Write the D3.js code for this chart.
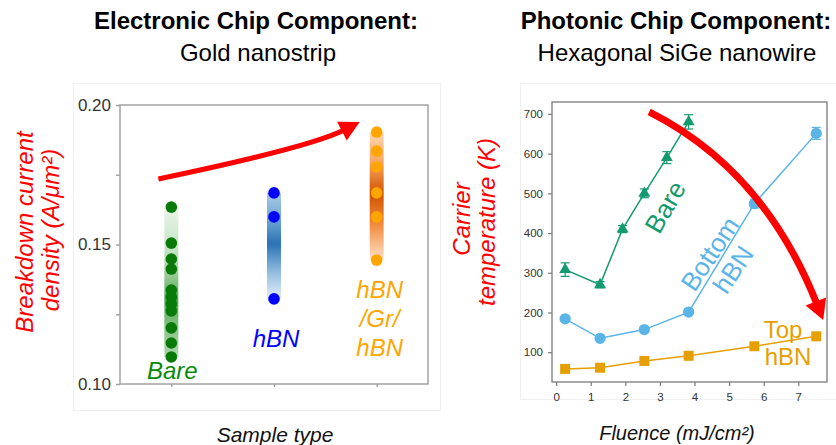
<!DOCTYPE html>
<html lang="en">
<head>
  <meta charset="UTF-8">
  <title>Electronic and photonic chip components</title>
  <script src="https://d3js.org/d3.v7.min.js"></script>
  <style type="text/css">
    body {
      margin: 0;
      background: #fff;
    }
    svg text {
      font-family: "Liberation Sans", Arial, Helvetica, sans-serif;
    }
  </style>
</head>
<body>
  <svg id="chart" width="836" height="445"></svg>

  <script>
    // ---- left panel: breakdown current density (A/um^2) per sample type
    var sampleTypes = ["Bare", "hBN", "hBN/Gr/hBN"];
    var bareJ = [0.1634, 0.1505, 0.1448, 0.1412, 0.1337, 0.1312, 0.1287, 0.1262, 0.1201, 0.1147, 0.1097];
    var hbnJ = [0.1685, 0.1599, 0.1305];
    var grapheneJ = [0.1903, 0.1835, 0.1778, 0.1685, 0.1599, 0.1444];
    var leftTicks = [0.10, 0.15, 0.20];
    var leftMinorTicks = [0.125, 0.175];

    // ---- right panel: carrier temperature (K) vs fluence (mJ/cm^2)
    var fluenceBare = [0.26, 1.27, 1.92, 2.55, 3.2, 3.83];
    var tempBare = [308, 270, 410, 500, 590, 680];
    var errBare = [17, 8, 9, 11, 15, 18];
    var fluenceHbn = [0.26, 1.27, 2.55, 3.83, 5.73, 7.52];
    var tempBottomHbn = [184, 135, 157, 201, 474, 651];
    var errBottomHbn = [0, 0, 0, 0, 11, 15];
    var tempTopHbn = [58, 61, 78, 91, 115, 140];
    var rightYTicks = [100, 200, 300, 400, 500, 600, 700];
    var rightXTicks = [0, 1, 2, 3, 4, 5, 6, 7];

    var FONT = '"Liberation Sans", Arial, Helvetica, sans-serif';
    var svg = d3.select("#chart");
    var defs = svg.append("defs");

    // style an axis group: grey lines, dark labels
    function styleAxis(g, fontSize, lineColor, lineWidth) {
      g.select(".domain").remove();
      g.selectAll(".tick line").attr("stroke", lineColor).attr("stroke-width", lineWidth);
      g.selectAll(".tick text")
        .attr("fill", "#333")
        .style("font-size", fontSize + "px")
        .style("font-family", FONT);
    }

    // curved red arrow: start, control, tip (pixels)
    function arrow(g, pts, w, headLen, headHalf) {
      var s = pts[0], c = pts[1], t = pts[2];
      var dx = t[0] - c[0], dy = t[1] - c[1], len = Math.hypot(dx, dy);
      var ux = dx / len, uy = dy / len;
      var b = [t[0] - ux * headLen, t[1] - uy * headLen];
      var p = d3.path();
      p.moveTo(s[0], s[1]);
      p.quadraticCurveTo(c[0], c[1], b[0] + ux * 3, b[1] + uy * 3);
      g.append("path").attr("d", p.toString())
        .attr("fill", "none").attr("stroke", "#ff0000").attr("stroke-width", w);
      var h = d3.path();
      h.moveTo(t[0], t[1]);
      h.lineTo(b[0] - uy * headHalf, b[1] + ux * headHalf);
      h.lineTo(b[0] + uy * headHalf, b[1] - ux * headHalf);
      h.closePath();
      g.append("path").attr("d", h.toString()).attr("fill", "#ff0000");
    }

    // faint panel outlines
    svg.append("rect").attr("x", 73.5).attr("y", 83.5).attr("width", 367).attr("height", 327)
      .attr("fill", "none").attr("stroke", "#f0f0f0");
    svg.append("rect").attr("x", 520.5).attr("y", 83.5).attr("width", 330).attr("height", 316)
      .attr("fill", "none").attr("stroke", "#f0f0f0");

    // titles
    function title(x, y, str, bold) {
      svg.append("text").attr("x", x).attr("y", y)
        .attr("text-anchor", "middle")
        .style("font-size", "24px")
        .style("font-weight", bold ? "bold" : "normal")
        .attr("fill", "#000")
        .text(str);
    }
    title(256, 29, "Electronic Chip Component:", true);
    title(258, 61, "Gold nanostrip", false);
    title(676, 29, "Photonic Chip Component:", true);
    title(677, 61, "Hexagonal SiGe nanowire", false);

    // =============== left panel ===============
    var xL = d3.scaleLinear().domain([0.5, 3.5]).range([120, 428]);
    var yL = d3.scaleLinear().domain([0.10, 0.20]).range([384, 105]);
    var left = svg.append("g");

    left.append("rect")
      .attr("x", xL.range()[0]).attr("y", yL.range()[1])
      .attr("width", xL.range()[1] - xL.range()[0])
      .attr("height", yL.range()[0] - yL.range()[1])
      .attr("fill", "none").attr("stroke", "#a3a3a3").attr("stroke-width", 1.5);

    left.append("g")
      .attr("transform", "translate(" + xL.range()[0] + ",0)")
      .call(d3.axisLeft(yL).tickValues(leftTicks).tickFormat(d3.format(".2f"))
        .tickSize(4).tickPadding(5).tickSizeOuter(0))
      .call(styleAxis, 17, "#a3a3a3", 1.5);
    left.append("g")
      .attr("transform", "translate(" + xL.range()[0] + ",0)")
      .call(d3.axisLeft(yL).tickValues(leftMinorTicks).tickFormat("").tickSize(4).tickSizeOuter(0))
      .call(styleAxis, 17, "#a3a3a3", 1.5);
    left.append("g")
      .attr("transform", "translate(0," + yL.range()[0] + ")")
      .call(d3.axisBottom(xL).tickValues([1, 2, 3]).tickFormat("").tickSize(3).tickSizeOuter(0))
      .call(styleAxis, 17, "#a3a3a3", 1.5);

    var leftSeries = [
      { name: sampleTypes[0], values: bareJ, dot: "#077a07",
        stops: [[0, "#eaf5ea"], [0.3, "#c2e2c2"], [0.45, "#98cc98"], [0.62, "#52a752"], [0.8, "#86c386"], [1, "#acd7ac"]] },
      { name: sampleTypes[1], values: hbnJ, dot: "#0000ff",
        stops: [[0, "#a9cbe6"], [0.25, "#6fa6d3"], [0.48, "#2a73b5"], [0.75, "#93bde0"], [1, "#e4eef8"]] },
      { name: sampleTypes[2], values: grapheneJ, dot: "#ffa500",
        stops: [[0, "#fcd8b6"], [0.25, "#f6a25a"], [0.48, "#d05300"], [0.72, "#f28b3c"], [1, "#fde2c9"]] }
    ];

    leftSeries.forEach(function(s, i) {
      var id = "band" + i;
      var grad = defs.append("linearGradient").attr("id", id)
        .attr("x1", 0).attr("y1", 0).attr("x2", 0).attr("y2", 1);
      s.stops.forEach(function(st) {
        grad.append("stop").attr("offset", st[0]).attr("stop-color", st[1]);
      });
      var hi = d3.max(s.values), lo = d3.min(s.values);
      left.append("rect")
        .attr("x", xL(i + 1) - 7).attr("width", 14)
        .attr("y", yL(hi)).attr("height", yL(lo) - yL(hi))
        .attr("fill", "url(#" + id + ")");
      left.selectAll(".dot" + i)
        .data(s.values)
        .enter().append("circle")
        .attr("class", "dot" + i)
        .attr("cx", xL(i + 1))
        .attr("cy", function(d) { return yL(d); })
        .attr("r", 5.8)
        .attr("fill", s.dot);
    });

    // category labels inside the plot
    function leftLabel(x, y, str, color) {
      left.append("text").attr("x", x).attr("y", y)
        .attr("text-anchor", "middle")
        .style("font-size", "24px").style("font-style", "italic")
        .attr("fill", color).text(str);
    }
    leftLabel(xL(1) + 1, 379, "Bare", "#0a8a0a");
    leftLabel(xL(2) + 2, 347, "hBN", "#0000ff");
    leftLabel(xL(3) + 3, 298, "hBN", "#ffa500");
    leftLabel(xL(3) + 3, 327, "/Gr/", "#ffa500");
    leftLabel(xL(3) + 3, 356, "hBN", "#ffa500");

    arrow(left, [[xL(0.874), yL(0.1735)], [xL(2.359), yL(0.1849)], [xL(2.835), yL(0.1939)]], 5, 20, 10.5);

    // axis titles
    left.append("text").attr("transform", "translate(33,232) rotate(-90)")
      .attr("text-anchor", "middle").style("font-size", "24px").style("font-style", "italic")
      .attr("fill", "#ff0000").text("Breakdown current");
    left.append("text").attr("transform", "translate(59,230) rotate(-90)")
      .attr("text-anchor", "middle").style("font-size", "24px").style("font-style", "italic")
      .attr("fill", "#ff0000").text("density (A/\u03bcm\u00b2)");
    left.append("text").attr("x", 275).attr("y", 442)
      .attr("text-anchor", "middle").style("font-size", "21px").style("font-style", "italic")
      .attr("fill", "#111").text("Sample type");

    // =============== right panel ===============
    var xR = d3.scaleLinear().domain([-0.12, 7.83]).range([552, 827]);
    var yR = d3.scaleLinear().domain([25, 730]).range([382, 102]);
    var right = svg.append("g");

    right.append("rect")
      .attr("x", xR.range()[0]).attr("y", yR.range()[1])
      .attr("width", xR.range()[1] - xR.range()[0])
      .attr("height", yR.range()[0] - yR.range()[1])
      .attr("fill", "none").attr("stroke", "#7a7a7a").attr("stroke-width", 1.3);

    right.append("g")
      .attr("transform", "translate(" + xR.range()[0] + ",0)")
      .call(d3.axisLeft(yR).tickValues(rightYTicks).tickSize(4).tickPadding(5).tickSizeOuter(0))
      .call(styleAxis, 11.5, "#7a7a7a", 1.2);
    right.append("g")
      .attr("transform", "translate(0," + yR.range()[0] + ")")
      .call(d3.axisBottom(xR).tickValues(rightXTicks).tickSize(4).tickPadding(7).tickSizeOuter(0))
      .call(styleAxis, 11.5, "#7a7a7a", 1.2);

    var rightSeries = [
      { x: fluenceBare, y: tempBare, err: errBare, color: "#149a6f", shape: d3.symbolTriangle, size: 62 },
      { x: fluenceHbn, y: tempBottomHbn, err: errBottomHbn, color: "#5ab4e8", shape: d3.symbolCircle, size: 100 },
      { x: fluenceHbn, y: tempTopHbn, err: null, color: "#e69f00", shape: d3.symbolSquare, size: 100 }
    ];

    var line = d3.line()
      .x(function(d) { return xR(d[0]); })
      .y(function(d) { return yR(d[1]); });

    rightSeries.forEach(function(s) {
      var pts = s.x.map(function(x, i) { return [x, s.y[i], s.err ? s.err[i] : 0]; });
      right.append("path").datum(pts).attr("d", line)
        .attr("fill", "none").attr("stroke", s.color).attr("stroke-width", 1.5);

      var eb = right.selectAll(null).data(pts.filter(function(d) { return d[2] > 0; }))
        .enter().append("g").attr("stroke", s.color).attr("stroke-width", 1.2);
      eb.append("line")
        .attr("x1", function(d) { return xR(d[0]); }).attr("x2", function(d) { return xR(d[0]); })
        .attr("y1", function(d) { return yR(d[1] - d[2]); }).attr("y2", function(d) { return yR(d[1] + d[2]); });
      eb.append("line")
        .attr("x1", function(d) { return xR(d[0]) - 4.5; }).attr("x2", function(d) { return xR(d[0]) + 4.5; })
        .attr("y1", function(d) { return yR(d[1] + d[2]); }).attr("y2", function(d) { return yR(d[1] + d[2]); });
      eb.append("line")
        .attr("x1", function(d) { return xR(d[0]) - 4.5; }).attr("x2", function(d) { return xR(d[0]) + 4.5; })
        .attr("y1", function(d) { return yR(d[1] - d[2]); }).attr("y2", function(d) { return yR(d[1] - d[2]); });

      right.selectAll(null).data(pts)
        .enter().append("path")
        .attr("transform", function(d) { return "translate(" + xR(d[0]) + "," + yR(d[1]) + ")"; })
        .attr("d", d3.symbol().type(s.shape).size(s.size))
        .attr("fill", s.color);
    });

    // series labels
    right.append("text")
      .attr("transform", "translate(" + xR(3.15) + "," + yR(466) + ") rotate(-60)")
      .attr("text-anchor", "middle").attr("dy", "0.35em")
      .style("font-size", "26px").attr("fill", "#149a6f").text("Bare");
    var bottomLbl = right.append("g")
      .attr("transform", "translate(" + xR(4.78) + "," + yR(328) + ") rotate(-56)")
      .attr("fill", "#5ab4e8").style("font-size", "26px");
    bottomLbl.append("text").attr("y", -14).attr("dy", "0.35em").attr("text-anchor", "middle").text("Bottom");
    bottomLbl.append("text").attr("y", 14).attr("dy", "0.35em").attr("text-anchor", "middle").text("hBN");
    right.append("text").attr("x", 783).attr("y", 338).attr("text-anchor", "middle")
      .style("font-size", "24px").attr("fill", "#e69f00").text("Top");
    right.append("text").attr("x", 788).attr("y", 365).attr("text-anchor", "middle")
      .style("font-size", "24px").attr("fill", "#e69f00").text("hBN");

    arrow(right, [[xR(2.69), yR(705)], [xR(6.01), yR(559)], [xR(7.72), yR(181)]], 7, 20, 11);

    // axis titles
    right.append("text").attr("transform", "translate(470,219) rotate(-90)")
      .attr("text-anchor", "middle").style("font-size", "24px").style("font-style", "italic")
      .attr("fill", "#ff0000").text("Carrier");
    right.append("text").attr("transform", "translate(495,222) rotate(-90)")
      .attr("text-anchor", "middle").style("font-size", "24px").style("font-style", "italic")
      .attr("fill", "#ff0000").text("temperature (K)");
    right.append("text").attr("x", 677).attr("y", 440)
      .attr("text-anchor", "middle").style("font-size", "20px").style("font-style", "italic")
      .attr("fill", "#111").text("Fluence (mJ/cm\u00b2)");
  </script>
</body>
</html>
